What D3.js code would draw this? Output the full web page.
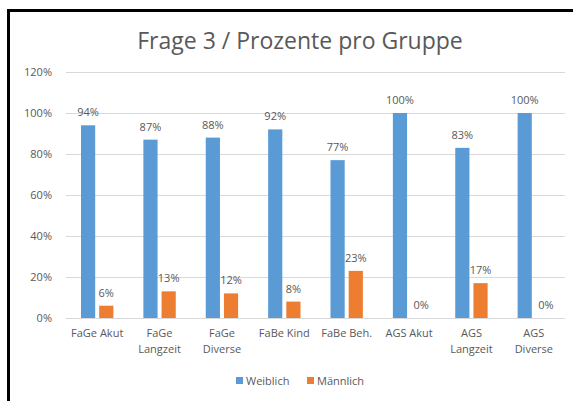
<!DOCTYPE html>
<html>
<head>
<meta charset="utf-8">
<script src="https://cdn.jsdelivr.net/npm/d3@7"></script>
<style>
  body { margin: 0; background: #fff; }
  text { font-family: "Open Sans", "Noto Sans", sans-serif; fill: #595959; }
</style>
</head>
<body>
<div id="chart"></div>
<script>
var categories = ["FaGe Akut", "FaGe Langzeit", "FaGe Diverse", "FaBe Kind", "FaBe Beh.", "AGS Akut", "AGS Langzeit", "AGS Diverse"],
    seriesNames = ["Weiblich", "Männlich"],
    weiblich = [94, 87, 88, 92, 77, 100, 83, 100],
    maennlich = [6, 13, 12, 8, 23, 0, 17, 0],
    yTicks = [0, 20, 40, 60, 80, 100, 120],
    colors = ["#5B9BD5", "#ED7D31"];

var width = 573,
    height = 401,
    margins = { top: 72, right: 8, bottom: 83, left: 66 },
    plotW = width - margins.left - margins.right,
    plotH = height - margins.top - margins.bottom;

var svg = d3.select("#chart")
    .append("svg")
    .attr("width", width)
    .attr("height", height);

// frame (left and top edge only, as in the screenshot)
svg.append("path")
    .attr("d", "M8.5,401 V10.5 H573")
    .attr("fill", "none")
    .attr("stroke", "#000")
    .attr("stroke-width", 3);

svg.append("text")
    .attr("x", 300)
    .attr("y", 49)
    .attr("text-anchor", "middle")
    .style("font-size", "23px")
    .text("Frage 3 / Prozente pro Gruppe");

var g = svg.append("g")
    .attr("transform", "translate(" + margins.left + "," + margins.top + ")");

var y = d3.scaleLinear().domain([0, 120]).range([plotH, 0]);
var x0 = d3.scaleBand().domain(categories).range([0, plotW]);
var x1 = d3.scaleBand().domain(seriesNames).range([15, x0.bandwidth() - 15]).paddingInner(0.22);

// gridlines
g.selectAll(".grid")
    .data(yTicks)
    .enter()
    .append("line")
    .attr("x1", 0)
    .attr("x2", plotW)
    .attr("y1", function (d) { return Math.round(y(d)) + 0.5; })
    .attr("y2", function (d) { return Math.round(y(d)) + 0.5; })
    .attr("stroke", "#D9D9D9")
    .attr("stroke-width", 1);

// y axis labels
var yAxis = d3.axisLeft(y)
    .tickValues(yTicks)
    .tickSize(0)
    .tickPadding(14)
    .tickFormat(function (d) { return d + "%"; });
var yG = g.append("g").call(yAxis);
yG.select(".domain").remove();
yG.selectAll("text").style("font-size", "11px").attr("fill", null);

var data = categories.map(function (c, i) {
    return { cat: c, values: [
        { name: seriesNames[0], value: weiblich[i] },
        { name: seriesNames[1], value: maennlich[i] }
    ] };
});

var groups = g.selectAll(".group")
    .data(data)
    .enter()
    .append("g")
    .attr("transform", function (d) { return "translate(" + x0(d.cat) + ",0)"; });

groups.selectAll("rect")
    .data(function (d) { return d.values; })
    .enter()
    .append("rect")
    .attr("x", function (d) { return x1(d.name); })
    .attr("width", x1.bandwidth())
    .attr("y", function (d) { return y(d.value); })
    .attr("height", function (d) { return plotH - y(d.value); })
    .style("fill", function (d, i) { return colors[i]; });

// data labels; Excel nudges the zero labels a bit to the right
groups.selectAll(".lbl")
    .data(function (d) { return d.values; })
    .enter()
    .append("text")
    .attr("x", function (d) { return x1(d.name) + x1.bandwidth() / 2 + (d.value === 0 ? 3 : 0); })
    .attr("y", function (d) { return y(d.value) - 9; })
    .attr("text-anchor", "middle")
    .style("font-size", "11px")
    .text(function (d) { return d.value + "%"; });

// x axis line
g.append("line")
    .attr("x1", 0)
    .attr("x2", plotW)
    .attr("y1", plotH + 0.5)
    .attr("y2", plotH + 0.5)
    .attr("stroke", "#D9D9D9");

// category labels (wrapped like Excel)
var catLines = {
    "FaGe Akut": ["FaGe Akut"],
    "FaGe Langzeit": ["FaGe", "Langzeit"],
    "FaGe Diverse": ["FaGe", "Diverse"],
    "FaBe Kind": ["FaBe Kind"],
    "FaBe Beh.": ["FaBe Beh."],
    "AGS Akut": ["AGS Akut"],
    "AGS Langzeit": ["AGS", "Langzeit"],
    "AGS Diverse": ["AGS", "Diverse"]
};
var xl = g.selectAll(".xl")
    .data(categories)
    .enter()
    .append("text")
    .attr("text-anchor", "middle")
    .attr("transform", function (d) { return "translate(" + (x0(d) + x0.bandwidth() / 2) + "," + (plotH + 19) + ")"; })
    .style("font-size", "11px");
xl.selectAll("tspan")
    .data(function (d) { return catLines[d]; })
    .enter()
    .append("tspan")
    .attr("x", 0)
    .attr("dy", function (d, i) { return i === 0 ? 0 : 16; })
    .text(function (d) { return d; });

// legend
var legend = svg.append("g").attr("transform", "translate(236,381)");
var legX = [0, 71];
seriesNames.forEach(function (n, i) {
    legend.append("rect")
        .attr("x", legX[i])
        .attr("y", -4)
        .attr("width", 7)
        .attr("height", 7)
        .style("fill", colors[i]);
    legend.append("text")
        .attr("x", legX[i] + 10)
        .attr("y", 4)
        .style("font-size", "11px")
        .text(n);
});
</script>
</body>
</html>
